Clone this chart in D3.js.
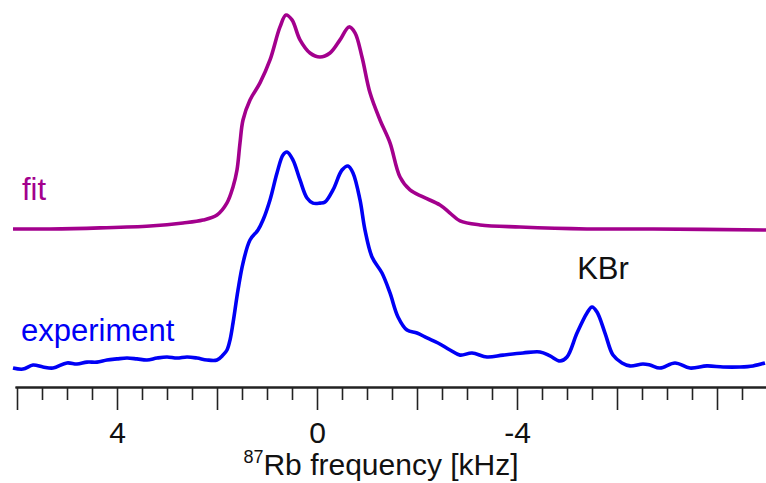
<!DOCTYPE html>
<html><head><meta charset="utf-8">
<script src="https://cdn.jsdelivr.net/npm/d3@7"></script>
<style>
html,body{margin:0;padding:0;background:#fff;}
svg{display:block;font-family:"Liberation Sans",Arial,sans-serif;}
</style></head>
<body>
<svg id="c" width="766" height="483"></svg>
<script>
// frequency (kHz) and normalized intensity
const expFreq = [6.08,5.88,5.68,5.48,5.28,5.00,4.80,4.60,4.40,4.20,4.00,3.80,3.60,3.40,3.20,3.00,2.80,2.60,2.40,2.20,2.00,1.88,1.80,1.74,1.68,1.58,1.48,1.34,1.18,1.08,0.94,0.80,0.68,0.60,0.48,0.34,0.20,0.08,-0.06,-0.16,-0.32,-0.50,-0.62,-0.72,-0.86,-0.96,-1.10,-1.30,-1.46,-1.62,-1.80,-2.00,-2.20,-2.42,-2.66,-2.86,-3.10,-3.40,-3.72,-4.12,-4.46,-4.66,-4.86,-5.00,-5.20,-5.40,-5.50,-5.60,-5.76,-5.92,-6.10,-6.26,-6.52,-6.66,-6.86,-7.16,-7.46,-7.80,-8.12,-8.46,-8.72,-8.96];
const expInt = [-0.019,-0.024,-0.005,-0.014,-0.019,0.005,0.000,0.009,0.009,0.019,0.024,0.028,0.024,0.019,0.028,0.033,0.028,0.033,0.028,0.019,0.019,0.042,0.066,0.113,0.193,0.349,0.476,0.585,0.632,0.679,0.774,0.901,0.986,1.000,0.962,0.868,0.783,0.759,0.759,0.764,0.821,0.915,0.934,0.901,0.774,0.632,0.505,0.429,0.335,0.222,0.160,0.146,0.123,0.099,0.066,0.042,0.052,0.033,0.042,0.052,0.057,0.038,0.014,0.033,0.146,0.241,0.269,0.245,0.146,0.042,0.005,-0.009,0.000,-0.005,-0.019,0.005,-0.019,-0.009,-0.014,-0.014,-0.009,0.005];

const fitFreq = [6.08,5.34,4.34,3.34,2.68,2.28,2.00,1.80,1.68,1.60,1.54,1.48,1.34,1.14,0.94,0.74,0.62,0.50,0.34,0.14,-0.06,-0.26,-0.46,-0.64,-0.76,-0.90,-1.06,-1.26,-1.46,-1.66,-1.86,-2.12,-2.46,-2.66,-2.86,-3.26,-4.06,-5.40,-6.72,-8.98];
const fitInt = [0,0,0.005,0.014,0.028,0.042,0.066,0.123,0.198,0.278,0.406,0.514,0.608,0.689,0.797,0.953,1.009,0.986,0.892,0.830,0.811,0.830,0.892,0.953,0.925,0.811,0.642,0.514,0.406,0.245,0.184,0.151,0.113,0.075,0.038,0.019,0.009,0,0,-0.005];
const fitOffset = 0.637;

const majorTicks = [6,4,2,0,-2,-4,-6,-8];
const minorTicks = [5.5,5,4.5,3.5,3,2.5,1.5,1,0.5,-0.5,-1,-1.5,-2.5,-3,-3.5,-4.5,-5,-5.5,-6.5,-7,-7.5,-8.5];
const labeledTicks = [4,0,-4];

const svg = d3.select("#c");
const x = d3.scaleLinear().domain([6.04,-9.0]).range([15,767]);
const y = d3.scaleLinear().domain([0,1]).range([364,152]);

const line = d3.line().curve(d3.curveCatmullRom.alpha(0.5));

svg.append("path")
  .attr("d", line(fitFreq.map((f,i)=>[x(f), y(fitInt[i]+fitOffset)])))
  .attr("fill","none").attr("stroke","#a3008d").attr("stroke-width",3.6).attr("stroke-linejoin","round");
svg.append("path")
  .attr("d", line(expFreq.map((f,i)=>[x(f), y(expInt[i])])))
  .attr("fill","none").attr("stroke","#0000f5").attr("stroke-width",3.6).attr("stroke-linejoin","round");

const axisY = 387;
const gMinor = svg.append("g").attr("transform",`translate(0,${axisY})`)
  .call(d3.axisBottom(x).tickValues(minorTicks).tickSize(13).tickSizeOuter(0).tickFormat(""));
const gMajor = svg.append("g").attr("transform",`translate(0,${axisY})`)
  .call(d3.axisBottom(x).tickValues(majorTicks).tickSize(23).tickSizeOuter(0)
    .tickFormat(d => labeledTicks.includes(d) ? d3.format("d")(d).replace("−","-") : ""));
[gMinor,gMajor].forEach(g=>{
  g.select(".domain").attr("stroke","#222").attr("stroke-width",2);
  g.selectAll(".tick line").attr("stroke","#222").attr("stroke-width",1.6);
});
gMajor.selectAll(".tick text").attr("y",56).attr("dy",0)
  .attr("font-size",30).attr("fill","#111").attr("font-family","Liberation Sans, Arial, sans-serif");

const title = svg.append("text").attr("x",381).attr("y",475).attr("text-anchor","middle")
  .attr("font-size",30).attr("fill","#111");
title.append("tspan").text("87").attr("font-size",18).attr("dy",-12);
title.append("tspan").text("Rb frequency [kHz]").attr("dy",12);

svg.append("text").attr("x",22).attr("y",200).attr("font-size",31).attr("fill","#a3008d").text("fit");
svg.append("text").attr("x",21).attr("y",341).attr("font-size",31).attr("fill","#0000f5").text("experiment");
svg.append("text").attr("x",603).attr("y",279).attr("font-size",31).attr("text-anchor","middle").attr("fill","#111").text("KBr");
</script>
</body></html>
